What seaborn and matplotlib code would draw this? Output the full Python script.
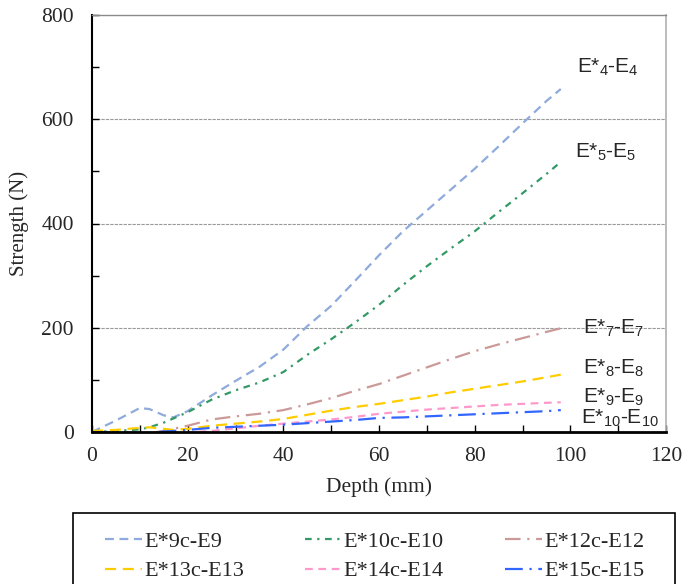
import numpy as np
import pandas as pd
import seaborn as sns
import matplotlib
matplotlib.use("Agg")
import matplotlib.pyplot as plt
from matplotlib.ticker import MultipleLocator
from matplotlib.patches import Rectangle

depth = [0, 5, 10, 12, 15, 17, 20, 25, 30, 35, 40, 45, 50, 55, 60, 65, 70, 75, 80, 85, 90, 95, 98]

e9 = [0, 22, 46, 44, 32, 28, 40, 70, 98, 125, 158, 203, 242, 290, 339, 385, 425, 465, 505, 548, 592, 635, 658]
e10 = [0, 2, 5, 9, 18, 26, 38, 62, 80, 95, 115, 148, 178, 210, 244, 282, 318, 352, 385, 422, 458, 495, 518]
e12 = [0, 0, -2, -2, 2, 6, 12, 24, 30, 35, 42, 53, 65, 79, 92, 108, 124, 140, 155, 168, 180, 192, 199]
e13 = [2, 4, 8, 9, 6, 4, 6, 12, 16, 20, 25, 33, 41, 48, 54, 61, 68, 76, 83, 90, 97, 105, 110]
e14 = [-1, -2, -4, -4, -4, -3, -1, 2, 7, 12, 16, 20, 24, 29, 35, 39, 43, 46, 49, 52, 54, 56, 57]
e15 = [0, -1, -2, -2, 1, 2, 4, 8, 10, 12, 14, 17, 20, 23, 27, 28, 30, 32, 34, 36, 38, 40, 42]

series_names = ["E*9c-E9", "E*10c-E10", "E*12c-E12", "E*13c-E13", "E*14c-E14", "E*15c-E15"]
series_values = [e9, e10, e12, e13, e14, e15]
colors = ["#8FAADC", "#339966", "#CC9999", "#FFCC00", "#FF99CC", "#3366FF"]
dash_styles = [(4, 2.5), (3, 2.5, 1, 2.5), (7, 3, 1, 3), (5, 3), (3.5, 2.5), (8, 3, 1, 3)]

annot_texts = [r"E*$_{4}$-E$_{4}$", r"E*$_{5}$-E$_{5}$", r"E*$_{7}$-E$_{7}$",
               r"E*$_{8}$-E$_{8}$", r"E*$_{9}$-E$_{9}$", r"E*$_{10}$-E$_{10}$"]
annot_x = [101.4, 101.0, 102.7, 102.7, 102.7, 102.2]
annot_y = [699, 536, 199, 122, 66, 26]

rows = []
for name, vals in zip(series_names, series_values):
    for d, v in zip(depth, vals):
        rows.append({"Depth": d, "Strength": v, "Series": name})
df = pd.DataFrame(rows)

sns.set_style("white")
plt.rcParams["font.family"] = ["Liberation Serif", "DejaVu Serif"]
plt.rcParams["mathtext.fontset"] = "custom"
plt.rcParams["mathtext.rm"] = "Liberation Sans"
plt.rcParams["mathtext.it"] = "Liberation Sans:italic"
plt.rcParams["mathtext.bf"] = "Liberation Sans:bold"

fig = plt.figure(figsize=(6.84, 5.84), dpi=100)
ax = fig.add_axes([92 / 684, 1 - 432 / 584, (666 - 92) / 684, (432 - 15) / 584])

sns.lineplot(data=df, x="Depth", y="Strength", hue="Series", style="Series",
             palette=dict(zip(series_names, colors)),
             dashes=dict(zip(series_names, dash_styles)),
             linewidth=1.6, ax=ax, legend=False, sort=False)

ax.set_xlim(0, 120)
ax.set_ylim(0, 800)
ax.xaxis.set_major_locator(MultipleLocator(20))
ax.xaxis.set_minor_locator(MultipleLocator(10))
ax.yaxis.set_major_locator(MultipleLocator(200))
ax.yaxis.set_minor_locator(MultipleLocator(100))
ax.tick_params(axis="both", which="both", direction="in", length=5, width=1,
               color="black", bottom=True, left=True, top=False, right=False)
ax.tick_params(axis="both", which="major", labelsize=15.5)
ax.tick_params(axis="y", which="major", pad=13)
ax.tick_params(axis="x", which="major", pad=11)

for yv in [200, 400, 600]:
    ax.axhline(yv, color="#9a9a9a", lw=0.8, ls=(0, (3, 1)), zorder=0)

ax.spines["left"].set_color("black")
ax.spines["left"].set_linewidth(1.5)
ax.spines["bottom"].set_color("black")
ax.spines["bottom"].set_linewidth(2)
ax.spines["top"].set_color("#8a8a8a")
ax.spines["top"].set_linewidth(1)
ax.spines["right"].set_color("#b0b0b0")
ax.spines["right"].set_linewidth(1.2)

ax.set_xlabel("Depth (mm)", fontsize=15.5, labelpad=8)
ax.set_ylabel("Strength (N)", fontsize=15, labelpad=9)

for t, x, y in zip(annot_texts, annot_x, annot_y):
    ax.text(x, y, t, fontsize=15, family="Liberation Sans", ha="left", va="center")

lines = ax.get_lines()[:len(series_names)]
order = [0, 3, 1, 4, 2, 5]
leg = fig.legend([lines[i] for i in order], [series_names[i] for i in order],
                 loc="upper left", bbox_to_anchor=(105 / 684, 1 - 531 / 584),
                 ncol=3, fontsize=16, frameon=False, handlelength=1.65,
                 handletextpad=0.1, columnspacing=2.75, borderpad=0,
                 labelspacing=0.42, borderaxespad=0)

fig.add_artist(Rectangle((73 / 684, -0.05), (675 - 73) / 684, 0.05 + 1 - 513 / 584,
                         transform=fig.transFigure, fill=False, edgecolor="black",
                         linewidth=1.2))

fig.savefig("out.png", dpi=100)
